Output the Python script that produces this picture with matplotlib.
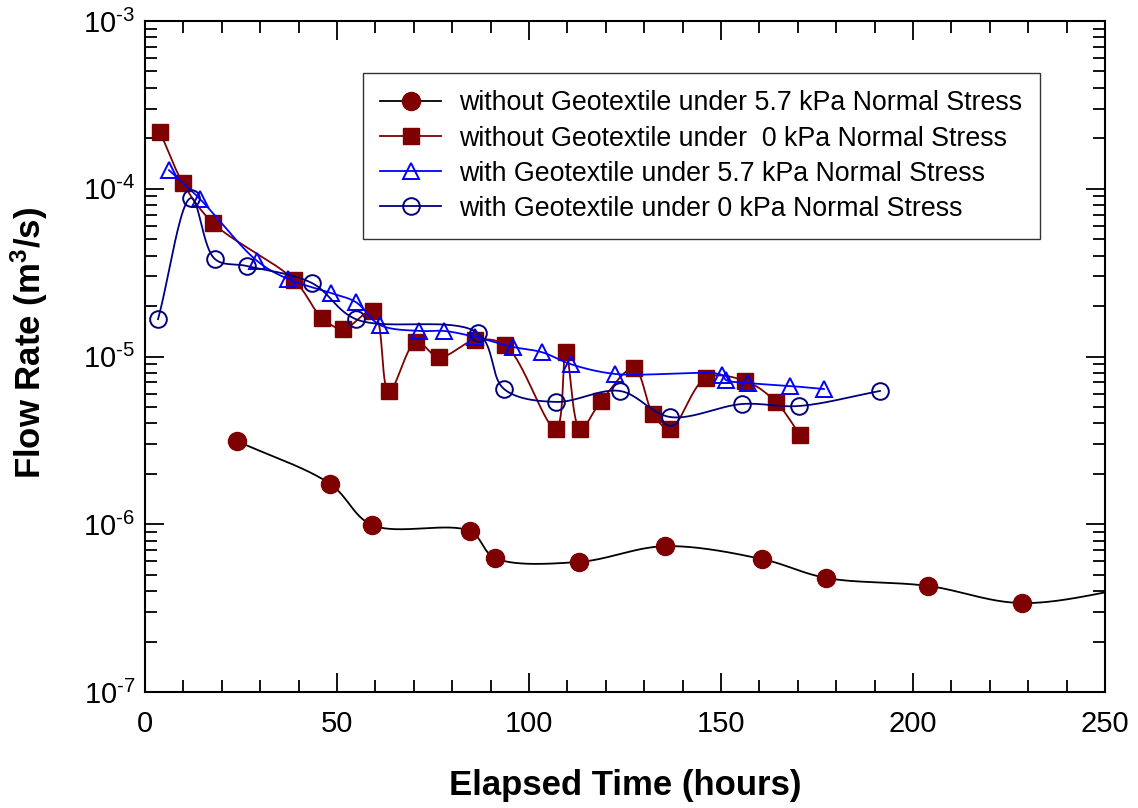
import matplotlib
matplotlib.use('Agg')
import matplotlib.pyplot as plt
import numpy as np
from matplotlib.lines import Line2D
from matplotlib.ticker import MultipleLocator, LogLocator, NullFormatter, FixedLocator

plt.rcParams['font.family'] = ['Liberation Sans', 'DejaVu Sans']
plt.rcParams['mathtext.fontset'] = 'custom'
plt.rcParams['mathtext.rm'] = 'Liberation Sans'
plt.rcParams['mathtext.bf'] = 'Liberation Sans:bold'

# without geotextile, 5.7 kPa (last point lies past the right edge of the frame)
t_nogeo_57 = [24.0, 48.2, 59.1, 84.6, 91.1, 113.0, 135.4, 160.7, 177.3, 203.9, 228.4, 262.0]
q_nogeo_57 = [3.13e-6, 1.74e-6, 9.9e-7, 9.1e-7, 6.3e-7, 5.96e-7, 7.4e-7, 6.2e-7, 4.79e-7, 4.29e-7, 3.39e-7, 4.4e-7]

# without geotextile, 0 kPa
t_nogeo_0 = [3.9, 9.9, 17.7, 38.8, 46.1, 51.6, 59.4, 63.5, 70.6, 76.6, 85.9, 93.8,
             107.0, 109.6, 113.3, 118.8, 127.3, 132.3, 136.7, 146.1, 156.3, 164.3, 170.6]
q_nogeo_0 = [2.18e-4, 1.08e-4, 6.25e-5, 2.86e-5, 1.70e-5, 1.46e-5, 1.87e-5, 6.2e-6, 1.22e-5, 9.9e-6, 1.25e-5, 1.17e-5,
             3.70e-6, 1.06e-5, 3.70e-6, 5.43e-6, 8.5e-6, 4.54e-6, 3.70e-6, 7.45e-6, 7.15e-6, 5.36e-6, 3.40e-6]

# with geotextile, 5.7 kPa
t_geo_57 = [6.25, 14.3, 29.2, 37.2, 48.4, 54.9, 61.2, 71.4, 77.9, 85.9, 95.8, 103.4,
            110.9, 122.4, 150.3, 151.3, 157.0, 168.0, 176.8]
q_geo_57 = [1.29e-4, 8.69e-5, 3.71e-5, 2.90e-5, 2.39e-5, 2.11e-5, 1.54e-5, 1.42e-5, 1.42e-5, 1.31e-5, 1.14e-5, 1.06e-5,
            9.0e-6, 7.87e-6, 7.76e-6, 7.24e-6, 6.95e-6, 6.67e-6, 6.40e-6]

# with geotextile, 0 kPa
t_geo_0 = [3.4, 12.0, 18.2, 26.6, 43.5, 54.9, 86.7, 93.5, 107.0, 123.7, 136.7, 155.5, 170.3, 191.4]
q_geo_0 = [1.67e-5, 8.8e-5, 3.81e-5, 3.46e-5, 2.74e-5, 1.67e-5, 1.38e-5, 6.4e-6, 5.36e-6, 6.23e-6, 4.36e-6, 5.21e-6, 5.07e-6, 6.23e-6]

labels = ['without Geotextile under 5.7 kPa Normal Stress',
          'without Geotextile under  0 kPa Normal Stress',
          'with Geotextile under 5.7 kPa Normal Stress',
          'with Geotextile under 0 kPa Normal Stress']

y_ticks = [1e-7, 1e-6, 1e-5, 1e-4, 1e-3]
y_ticklabels = [r'$\mathregular{10^{\text{-}7}}$', r'$\mathregular{10^{\text{-}6}}$', r'$\mathregular{10^{\text{-}5}}$',
                r'$\mathregular{10^{\text{-}4}}$', r'$\mathregular{10^{\text{-}3}}$']

maroon = '#7f0000'
blue = '#0000ff'
navy = '#00007f'


def smooth(ax, x, y, n=40, alpha=0.5):
    """centripetal Catmull-Rom spline through the points, computed in screen space"""
    pts = ax.transData.transform(np.column_stack([x, y]))
    p = np.vstack([2 * pts[0] - pts[1], pts, 2 * pts[-1] - pts[-2]])
    out = [pts[:1]]
    for i in range(1, len(p) - 2):
        p0, p1, p2, p3 = p[i - 1], p[i], p[i + 1], p[i + 2]
        t0 = 0.0
        t1 = t0 + max(np.linalg.norm(p1 - p0), 1e-6) ** alpha
        t2 = t1 + max(np.linalg.norm(p2 - p1), 1e-6) ** alpha
        t3 = t2 + max(np.linalg.norm(p3 - p2), 1e-6) ** alpha
        t = np.linspace(t1, t2, n)[1:, None]
        a1 = (t1 - t) / (t1 - t0) * p0 + (t - t0) / (t1 - t0) * p1
        a2 = (t2 - t) / (t2 - t1) * p1 + (t - t1) / (t2 - t1) * p2
        a3 = (t3 - t) / (t3 - t2) * p2 + (t - t2) / (t3 - t2) * p3
        b1 = (t2 - t) / (t2 - t0) * a1 + (t - t0) / (t2 - t0) * a2
        b2 = (t3 - t) / (t3 - t1) * a2 + (t - t1) / (t3 - t1) * a3
        c = (t2 - t) / (t2 - t1) * b1 + (t - t1) / (t2 - t1) * b2
        out.append(c)
    curve = ax.transData.inverted().transform(np.vstack(out))
    return curve[:, 0], curve[:, 1]


fig = plt.figure(figsize=(11.38, 8.08), dpi=100)
ax = fig.add_axes([145 / 1138, 1 - 692 / 808, 960 / 1138, 671 / 808])
ax.set_yscale('log')
ax.set_xlim(0, 250)
ax.set_ylim(1e-7, 1e-3)

series = [
    (t_nogeo_57, q_nogeo_57, 'black', dict(marker='o', ms=13, mfc=maroon, mec=maroon)),
    (t_nogeo_0, q_nogeo_0, maroon, dict(marker='s', ms=11.5, mfc=maroon, mec=maroon)),
    (t_geo_57, q_geo_57, blue, dict(marker='^', ms=12, mfc='none', mec=blue, mew=1.4)),
    (t_geo_0, q_geo_0, navy, dict(marker='o', ms=12, mfc='none', mec=navy, mew=1.4)),
]

handles = []
for (x, y, lc, mk), lab in zip(series, labels):
    sx, sy = smooth(ax, x, y)
    ax.plot(sx, sy, color=lc, lw=1.3)
    ax.plot(x, y, ls='none', **mk)
    handles.append(Line2D([], [], color=lc, lw=1.3, **mk))

ax.xaxis.set_major_locator(MultipleLocator(50))
ax.xaxis.set_minor_locator(MultipleLocator(10))
ax.yaxis.set_major_locator(FixedLocator(y_ticks))
ax.yaxis.set_minor_locator(LogLocator(base=10, subs=np.arange(2, 10)))
ax.yaxis.set_minor_formatter(NullFormatter())
ax.set_yticklabels(y_ticklabels)

ax.tick_params(which='both', direction='in', top=True, right=True, width=1.3, labelsize=21)
ax.tick_params(which='major', length=14)
ax.tick_params(which='minor', length=8.5)
ax.tick_params(axis='x', pad=13)
ax.tick_params(axis='y', pad=7)
for sp in ax.spines.values():
    sp.set_linewidth(1.5)

ax.set_xlabel('Elapsed Time (hours)', fontsize=25, fontweight='bold', labelpad=22)
ax.set_ylabel(r'Flow Rate (m$\mathbf{^3}$/s)', fontsize=25, fontweight='bold')
ax.yaxis.set_label_coords(-0.099, 0.52)

leg = ax.legend(handles, labels, loc='upper left', bbox_to_anchor=(0.227, 0.9225),
                borderaxespad=0, fontsize=19.3, frameon=True, fancybox=False,
                handlelength=2.27, handletextpad=0.68, labelspacing=0.34, borderpad=0.65)
leg.get_frame().set_edgecolor('black')
leg.get_frame().set_linewidth(1.0)

fig.savefig('out.png', dpi=100)
